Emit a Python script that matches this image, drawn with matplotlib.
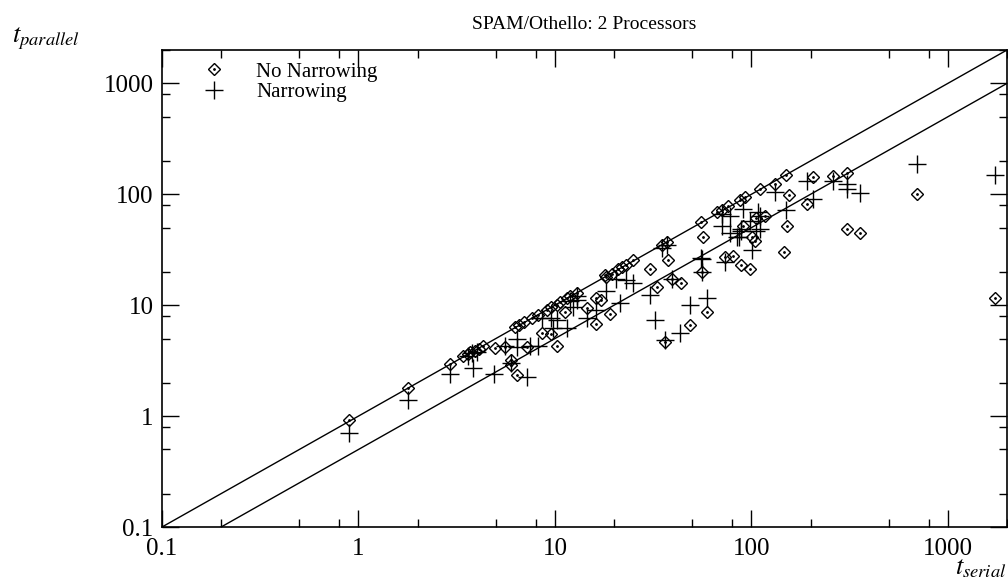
import matplotlib
matplotlib.use("Agg")
import matplotlib.pyplot as plt
import numpy as np
from matplotlib.ticker import LogLocator, NullFormatter, FixedFormatter, FixedLocator
from matplotlib.legend_handler import HandlerTuple

plt.rcParams["font.family"] = "Liberation Serif"
plt.rcParams["mathtext.fontset"] = "stix"

# No Narrowing (diamonds): t_serial, t_parallel
nn_serial = [0.89, 1.79, 2.92, 3.4, 3.6, 3.7, 3.9, 4.1, 4.3, 4.95, 5.57, 6.25, 6.6, 7.0,
             7.6, 8.2, 9.1, 9.6, 10.2, 10.6, 11.5, 12.0, 12.9, 8.55, 9.6, 10.2, 6.0, 6.4,
             6.0, 11.2, 14.5, 16.2, 17.2, 16.2, 17.9, 18.3, 19.5, 21.0, 22.0, 22.9, 25.1,
             30.4, 37.5, 32.9, 39.5, 43.6, 56, 19, 36.2, 48.5, 59.3, 34.9, 37.2, 55.7,
             57, 67, 70.5, 76, 87, 92.5, 110, 131.5, 150, 205, 155, 191, 151, 146, 73,
             80.5, 89, 98, 91, 101, 104, 106, 117, 261, 305, 305, 356, 693, 1730, 7.2]
nn_parallel = [0.92, 1.80, 2.98, 3.5, 3.6, 3.8, 3.9, 4.0, 4.3, 4.08, 4.2, 6.3, 6.6, 7.0,
               7.6, 8.2, 9.1, 9.6, 10.0, 10.6, 11.5, 12.2, 12.9, 5.56, 5.5, 4.3, 3.2, 2.34,
               2.9, 8.7, 9.4, 11.5, 11.1, 6.7, 18.7, 18.0, 19.3, 21.4, 22.2, 23.0, 25.4,
               21.4, 25.4, 14.6, 17.4, 15.7, 20, 8.4, 4.7, 6.6, 8.7, 34.9, 37, 56,
               41, 69, 71.8, 79, 88, 94, 112, 125, 148, 143, 98, 82, 52, 30, 27.2,
               28, 23, 21.4, 52, 41, 38, 61, 64, 145, 154, 49, 45, 101, 11.7, 4.2]

# Narrowing (pluses)
n_serial = [0.89, 1.79, 2.92, 3.84, 3.6, 3.8, 4.0, 5.6, 6.38, 7.46, 8.2, 6.4, 6.0, 7.2,
            4.9, 8.55, 9.6, 10.3, 9.8, 11.5, 12.9, 12.3, 14.5, 16.2, 18.3, 20.4, 22.9,
            25.1, 21.5, 30.4, 32.3, 36.2, 43.2, 48.5, 59.3, 55.7, 56, 34.9, 37.2, 39.5,
            70.5, 70.5, 78, 78, 84, 89, 89, 86, 91, 98, 108, 110, 101, 73, 56, 131.5,
            150, 191, 205, 261, 305, 305, 356, 693, 1730, 106, 110, 12.0, 13.0]
n_parallel = [0.70, 1.41, 2.38, 2.69, 3.5, 3.7, 3.8, 4.3, 4.2, 4.27, 4.3, 5.0, 3.0, 2.25,
              2.42, 7.6, 7.6, 7.3, 6.2, 6.2, 11.1, 9.6, 7.6, 9.0, 13.5, 17.4, 16.8,
              15.7, 10.4, 12.3, 7.3, 4.9, 5.6, 10.0, 11.5, 26.4, 20, 33, 35, 17.4,
              67, 52, 64, 44.5, 41, 49, 47, 41, 74, 57, 69, 49, 31.5, 24.4, 26, 104,
              72, 133, 91, 133, 125, 112, 102, 186, 148, 47, 64, 11.0, 12.0]

lim = (0.1, 2000)
ticks = [0.1, 1, 10, 100, 1000]
tick_labels = ["0.1", "1", "10", "100", "1000"]

fig = plt.figure(figsize=(10.08, 5.87), dpi=100)
ax = fig.add_axes([162 / 1008, 60 / 587, 845 / 1008, 477 / 587])
ax.set_xscale("log")
ax.set_yscale("log")
ax.set_xlim(*lim)
ax.set_ylim(*lim)

# reference lines t_parallel = t_serial and t_parallel = t_serial / 2
ref = np.array(lim)
ax.plot(ref, ref, color="black", lw=1.0)
ax.plot(ref, ref / 2, color="black", lw=1.0)

d, = ax.plot(nn_serial, nn_parallel, linestyle="none", marker="D", markersize=6.4,
             markerfacecolor="none", markeredgecolor="black", markeredgewidth=1.0)
dots, = ax.plot(nn_serial, nn_parallel, linestyle="none", marker="o", markersize=1.0,
                color="black")
p, = ax.plot(n_serial, n_parallel, linestyle="none", marker="+", markersize=13,
             color="black", markeredgewidth=1.0)

for axis in (ax.xaxis, ax.yaxis):
    axis.set_major_locator(FixedLocator(ticks))
    axis.set_major_formatter(FixedFormatter(tick_labels))
    axis.set_minor_locator(LogLocator(base=10, subs=[2, 5, 8]))
    axis.set_minor_formatter(NullFormatter())

ax.tick_params(which="both", direction="in", top=True, right=True, labelsize=18)
ax.tick_params(which="major", length=12, width=1.0)
ax.tick_params(which="minor", length=6, width=1.0)
ax.tick_params(axis="x", pad=8)
ax.tick_params(axis="y", pad=6)
for s in ax.spines.values():
    s.set_linewidth(1.2)

ax.set_title("SPAM/Othello: 2 Processors", fontsize=14, pad=15)

fig.text(12 / 1008, 1 - 42 / 587, r"$t_{parallel}$", fontsize=19, va="baseline")
fig.text(1006 / 1008, 1 - 574 / 587, r"$t_{serial}$", fontsize=19, va="baseline", ha="right")

ax.legend([(d, dots), p], ["No Narrowing", "Narrowing"], loc="upper left",
          bbox_to_anchor=(204 / 1008, 1 - 62 / 587), bbox_transform=fig.transFigure,
          frameon=False, fontsize=15, handlelength=1.0, handletextpad=1.5,
          labelspacing=0.05, borderpad=0, borderaxespad=0,
          handler_map={tuple: HandlerTuple(ndivide=1)})

fig.savefig("out.png", dpi=100)
